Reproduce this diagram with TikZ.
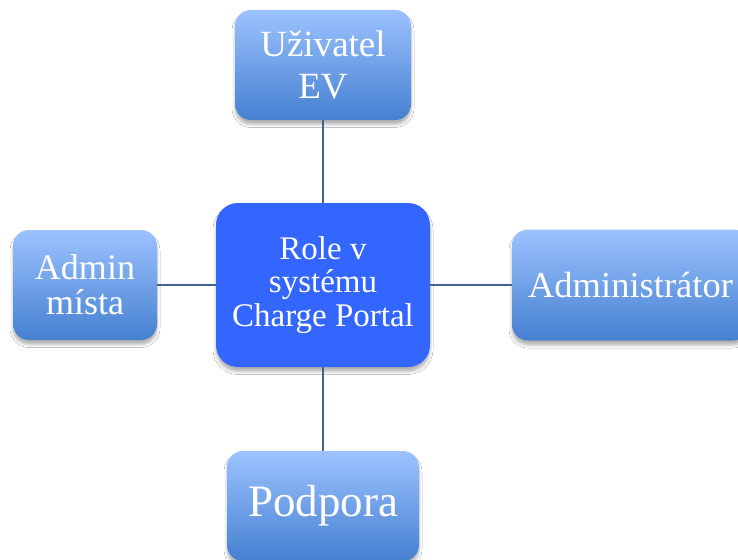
\documentclass[tikz,border=0pt]{standalone}
\usepackage{fontspec}
\setmainfont{Liberation Serif}
\usetikzlibrary{shadows.blur}
\definecolor{boxtop}{HTML}{9CC2FF}
\definecolor{boxbot}{HTML}{4580D0}
\definecolor{corec}{HTML}{3366FF}
\definecolor{linkc}{HTML}{41648F}
\begin{document}
\begin{tikzpicture}[x=1pt,y=-1pt,
  softshadow/.style={blur shadow={shadow xshift=0pt, shadow yshift=-4.5pt, shadow blur radius=3pt, shadow opacity=30}},
  rolebox/.style={rounded corners=16pt, top color=boxtop, bottom color=boxbot,
    text=white, align=center, inner sep=0pt, softshadow},
  corebox/.style={rounded corners=22pt, fill=corec, text=white, align=center, inner sep=0pt, softshadow},
  link/.style={draw=linkc, line width=1.6pt}]
\useasboundingbox (0,0) rectangle (738,559);
\clip (0,0) rectangle (738,559);
\fill[white] (0,0) rectangle (738,559);
\node[corebox, minimum width=214pt, minimum height=164pt, font=\fontsize{33}{33.5}\selectfont] (core) at (323,285) {Role v\\systému\\Charge Portal};
\node[rolebox, minimum width=176pt, minimum height=110pt, font=\fontsize{37}{42}\selectfont] (ev) at (323,65) {Uživatel\\EV};
\node[rolebox, minimum width=144pt, minimum height=110pt, font=\fontsize{36}{35}\selectfont] (site) at (85,285) {Admin\\místa};
\node[rolebox, minimum width=237pt, minimum height=111pt, font=\fontsize{36.5}{40}\selectfont] (admin) at (630.5,285) {Administrátor};
\node[rolebox, minimum width=192pt, minimum height=110pt, font=\fontsize{45}{50}\selectfont] (support) at (323,506) {Podpora};
\draw[link] (ev) -- (core);
\draw[link] (core) -- (support);
\draw[link] (site) -- (core);
\draw[link] (core) -- (admin);
\end{tikzpicture}
\end{document}
